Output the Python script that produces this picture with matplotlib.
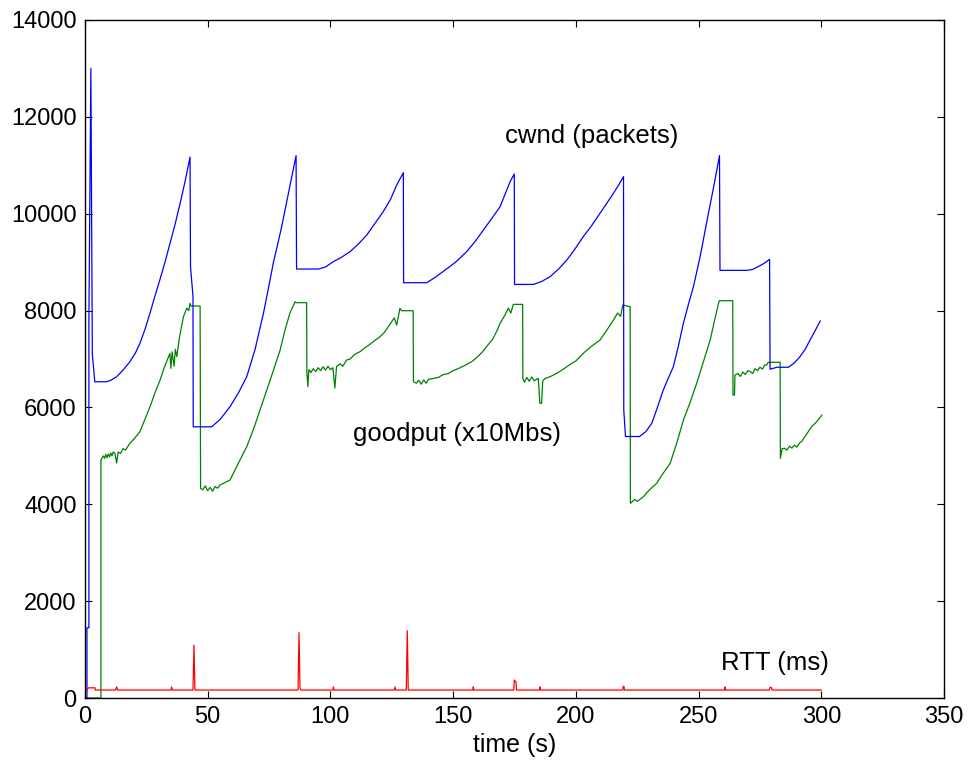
import matplotlib
matplotlib.use("Agg")
import matplotlib.pyplot as plt

plt.rcParams['font.family'] = ['Liberation Sans', 'DejaVu Sans']

# ---- cwnd (packets) ----
cwnd_t = [0, 0.8, 0.8, 1.6, 1.6, 2.4, 3.0, 4.0, 8.8, 10.5, 12.9, 15.5, 18.3, 20.5, 22.4,
          24.5, 26.5, 28.5, 30.6, 32.6, 34.6, 36.7, 38.7, 40.8, 42.8, 43.0, 44.0, 44.1,
          51.6, 55.0, 59.1, 62.5, 65.9, 69.3, 72.7, 74.7, 76.7, 80.0, 83.0, 86.0,
          86.2, 95.1, 98.0, 101.2, 104.5, 108.0, 111.5, 114.8, 118.0, 121.5, 124.5,
          127.0, 129.7, 129.8, 139.2, 142.5, 146.0, 151.0, 155.5, 159.0, 162.3, 165.7,
          169.1, 173.2, 174.9, 175.0, 182.7, 186.0, 189.5, 193.0, 196.3, 199.6, 203.0,
          206.5, 209.8, 212.5, 215.3, 217.5, 219.4, 219.5, 220.2, 225.9, 228.5, 230.9,
          233.2, 235.6, 237.6, 239.7, 241.8, 243.8, 245.8, 247.9, 250.6, 254.0, 256.3,
          258.5, 258.7, 269.6, 272.0, 274.0, 276.5, 278.9, 279.1, 282.0, 286.6, 289.0,
          291.3, 293.4, 295.4, 297.5, 299.5]
cwnd_v = [0, 0, 1450, 1450, 7800, 13000, 7100, 6530, 6530, 6560, 6634, 6770, 6944, 7120,
          7324, 7620, 7950, 8300, 8650, 9000, 9380, 9780, 10200, 10670, 11170, 8900,
          8300, 5600, 5600, 5750, 6015, 6300, 6634, 7200, 7943, 8450, 8976, 9700,
          10450, 11200, 8858, 8858, 8900, 9011, 9100, 9217, 9380, 9560, 9790, 10042,
          10300, 10593, 10847, 8575, 8575, 8680, 8810, 9000, 9217, 9430, 9663, 9900,
          10145, 10662, 10820, 8540, 8540, 8600, 8700, 8860, 9044, 9270, 9526, 9760,
          10007, 10210, 10421, 10600, 10765, 5950, 5400, 5400, 5500, 5672, 6000, 6360,
          6600, 6841, 7280, 7742, 8120, 8499, 9112, 10010, 10600, 11200, 8830, 8830,
          8850, 8900, 8970, 9058, 6790, 6830, 6830, 6920, 7048, 7200, 7392, 7590, 7784]

# ---- goodput (x10Mbs) ----
good_t = [0, 6.5, 6.5, 7.5, 8, 8.5, 9, 9.5, 10, 10.5, 11, 11.5, 12.2, 12.9, 13.5, 14.5,
          15.5, 16.5, 18.3, 20, 22.4, 24, 26.5, 28.5, 30.6, 32.5, 34.6, 35.0, 35.5,
          36.3, 36.8, 37.4, 38.5, 40.1, 41.5, 42.3, 42.8, 43.2, 46.9, 47.1, 48, 49,
          50, 51, 52, 53, 54, 55, 57, 59.1, 62, 65.9, 69, 72.7, 76, 79.5, 81.5, 83.5,
          85.6, 86, 90.3, 90.4, 90.8, 91.2, 92, 93, 94, 95, 96, 97, 98, 99, 100, 101,
          101.8, 102.5, 104, 105, 106.6, 108, 110, 112, 114, 116, 118, 120.2, 122,
          124, 126, 127, 128.3, 129, 133.7, 133.8, 135, 136, 137, 138, 139, 140, 142,
          144, 146, 148, 150, 152, 154, 156, 158, 160, 162, 164, 166, 168, 169.1,
          171, 172.5, 173.5, 174.5, 178.3, 178.4, 179, 180, 181, 182, 183, 184.7,
          185.3, 186, 186.5, 187.5, 189.5, 192, 194, 196.3, 198, 200, 203, 206,
          209.8, 212, 215.3, 217, 218.2, 219.1, 222.1, 222.2, 224, 225, 227.5, 230,
          232.9, 235, 238.4, 241, 243.8, 246.5, 249.2, 252, 254.7, 256.5, 258.1,
          258.5, 263.9, 264, 264.6, 264.8, 266, 267, 268, 269, 270, 271, 272, 273,
          274, 275, 276, 277, 277.8, 278.3, 283.2, 283.3, 284, 285, 286, 287, 288,
          289, 290, 291, 292, 294, 296, 298, 300.2]
good_v = [0, 0, 4914, 5000, 4950, 5030, 4960, 5040, 4980, 5060, 5000, 5080, 5050, 4852,
          5080, 5050, 5150, 5120, 5259, 5350, 5500, 5700, 6015, 6300, 6566, 6850,
          7117, 6807, 7150, 6850, 7200, 7048, 7450, 7873, 8050, 8000, 8150, 8094,
          8094, 4330, 4300, 4380, 4280, 4350, 4270, 4370, 4330, 4400, 4450, 4500,
          4800, 5189, 5600, 6153, 6650, 7186, 7600, 7950, 8183, 8163, 8163, 6738,
          6430, 6780, 6720, 6800, 6740, 6820, 6760, 6840, 6770, 6850, 6780, 6820,
          6400, 6850, 6900, 6850, 6979, 7000, 7100, 7150, 7230, 7300, 7380, 7461,
          7550, 7700, 7850, 7700, 8046, 7997, 7997, 6531, 6500, 6560, 6480, 6570,
          6500, 6580, 6600, 6620, 6680, 6700, 6760, 6800, 6850, 6900, 6960, 7050,
          7150, 7280, 7400, 7600, 7737, 7900, 8050, 7950, 8128, 8128, 6600, 6520,
          6620, 6540, 6630, 6550, 6600, 6085, 6085, 6550, 6600, 6634, 6700, 6760,
          6841, 6900, 6960, 7117, 7250, 7392, 7550, 7805, 7950, 7880, 8115, 8080,
          4020, 4100, 4060, 4157, 4300, 4433, 4600, 4846, 5250, 5740, 6100, 6498,
          6950, 7392, 7800, 8150, 8204, 8204, 6256, 6256, 6669, 6700, 6640, 6730,
          6680, 6760, 6743, 6700, 6800, 6760, 6830, 6790, 6880, 6876, 6932, 6932,
          4949, 5150, 5156, 5120, 5200, 5160, 5220, 5180, 5260, 5300, 5450, 5600,
          5700, 5843]

# ---- RTT (ms) ----
rtt_t = [0.3, 1.0, 1.2, 4.1, 4.2, 12.5, 12.9, 13.3, 35.0, 35.3, 35.6, 44.0, 44.4, 44.8,
         86.8, 87.2, 87.6, 88.0, 101.0, 101.2, 101.5, 126.0, 126.3, 126.6, 130.9,
         131.3, 131.7, 158.0, 158.2, 158.4, 174.7, 174.9, 175.6, 175.8, 185.2, 185.4,
         185.6, 219.1, 219.3, 219.6, 219.8, 260.6, 260.8, 261.0, 278.8, 279.1, 279.6,
         279.9, 300.0]
rtt_v = [150, 165, 210, 210, 165, 165, 230, 165, 165, 230, 165, 165, 1094, 165,
         165, 1349, 200, 165, 165, 230, 165, 165, 230, 165, 165,
         1390, 165, 165, 230, 165, 165, 372, 330, 165, 165, 230,
         165, 165, 240, 240, 165, 165, 230, 165, 165, 220, 220,
         165, 165]

xticks = [0, 50, 100, 150, 200, 250, 300, 350]
yticks = [0, 2000, 4000, 6000, 8000, 10000, 12000, 14000]

fig = plt.figure(figsize=(9.7, 7.69), dpi=100)
ax = fig.add_axes([0.0876, 0.0923, 0.9733 - 0.0876, 0.974 - 0.0923])

lw = 0.9
ax.plot(good_t, good_v, color='#008000', lw=lw)
ax.plot(cwnd_t, cwnd_v, color='#0000ff', lw=lw)
ax.plot(rtt_t, rtt_v, color='#ff0000', lw=lw)

ax.set_xlim(0, 350)
ax.set_ylim(0, 14000)
ax.set_xticks(xticks)
ax.set_yticks(yticks)
ax.tick_params(direction='in', length=5, width=0.8, top=True, right=True,
               labelsize=17, pad=6)
for s in ax.spines.values():
    s.set_linewidth(1.0)

ax.set_xlabel('time (s)', fontsize=18, labelpad=3)

ax.text(206.6, 11604, 'cwnd (packets)', fontsize=18.5, ha='center', va='center')
ax.text(151.6, 5451, 'goodput (x10Mbs)', fontsize=18.5, ha='center', va='center')
ax.text(281.2, 723, 'RTT (ms)', fontsize=18.5, ha='center', va='center')

fig.savefig('out.png', dpi=100)
